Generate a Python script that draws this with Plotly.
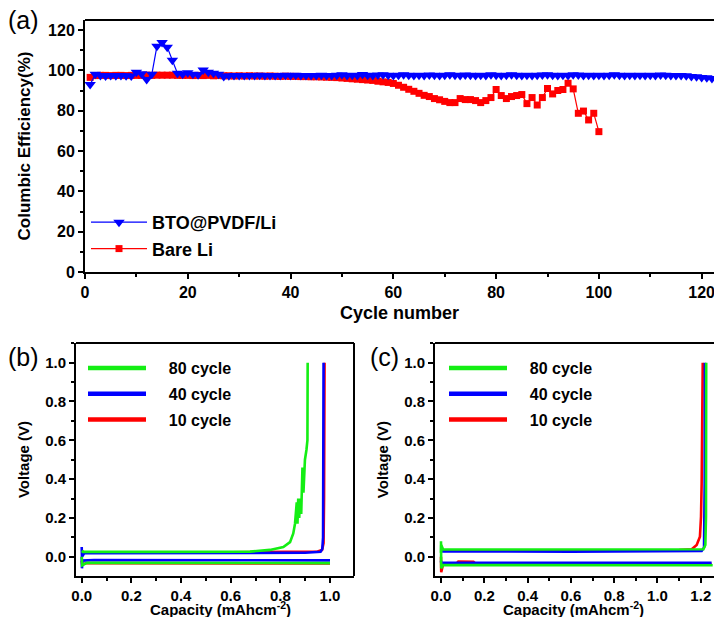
import plotly.graph_objects as go

FONT = "Liberation Sans, Arial, sans-serif"

# ---------------- Panel (a) data ----------------
bto_ce = [
    93.0, 98.0, 97.5, 97.2, 97.4, 97.3, 97.4, 97.3, 97.2, 99.0,
    98.3, 95.5, 98.0, 112.0, 113.8, 111.5, 105.0, 98.5, 98.0, 98.8,
    98.0, 97.8, 100.2, 99.0, 98.6, 98.0, 97.0,
    97.3, 97.5, 97.4, 97.5, 97.4, 97.5, 97.6, 97.4, 97.5, 97.4, 97.5, 97.6, 97.5,
    97.6, 97.5, 97.4, 97.5, 97.5, 97.6, 97.5, 97.4, 97.6, 97.8,
    97.5, 97.6, 97.5, 97.9, 97.6, 97.5, 97.7, 97.8, 97.6, 97.5,
    97.6, 97.8, 97.6, 97.5, 97.6, 97.5, 97.7, 97.6, 97.5, 97.6,
    97.8, 97.6, 97.5, 97.7, 97.6, 97.5, 97.6, 97.5, 97.8, 97.6,
    97.5, 97.6, 97.8, 97.6, 97.5, 97.6, 97.5, 97.6, 97.7, 97.8,
    97.6, 97.5, 97.6, 97.5, 97.8, 97.7, 97.5, 97.6, 97.5, 97.6,
    97.5, 97.6, 97.8, 97.6, 97.5, 97.6, 97.5, 97.6, 97.5, 97.6,
    97.5, 97.7, 97.6, 97.5, 97.4, 97.5, 97.3, 97.0, 96.8, 96.5,
    96.3, 96.0,
]
bto_cycle = list(range(1, len(bto_ce) + 1))

bare_ce = [
    96.5, 97.4, 97.5, 97.5, 97.4, 97.5, 97.5, 97.4, 97.5, 97.5,
    97.5, 97.6, 97.5, 97.6, 97.6, 97.6, 97.6, 97.5, 97.5, 97.5,
    97.4, 97.5, 97.4, 97.5, 97.3, 97.4, 97.3, 97.3, 97.2, 97.3,
    97.2, 97.3, 97.2, 97.2, 97.1, 97.2, 97.1, 97.0, 97.1, 97.0,
    97.0, 96.9, 96.9, 96.8, 96.8, 96.7, 96.6, 96.5, 96.4, 96.2,
    96.0, 95.8, 95.6, 95.4, 95.2, 95.0, 94.6, 94.3, 94.0, 93.5,
    92.6, 91.6, 90.6, 89.6, 88.6, 87.6, 87.0, 86.0, 85.4, 84.6,
    84.0, 84.0, 86.0, 85.5, 85.5, 85.0, 84.0, 85.0, 86.5, 90.5,
    87.5, 86.0, 87.0, 87.5, 88.0, 83.5, 86.5, 82.8, 86.5, 91.0,
    88.3, 90.0, 90.5, 93.6, 90.8, 78.7, 79.8, 75.4, 78.7, 69.6,
]
bare_cycle = list(range(1, len(bare_ce) + 1))

# ---------------- Panel (b) data (discharge segment, gap, charge segment) ----------------
b10_cap = [0.0, 0.002, 0.02, 0.5, 0.9, 1.0, None,
           0.0, 0.01, 0.5, 0.83, 0.95, 0.968, 0.974, 0.976, 0.977, 0.978]
b10_v = [-0.02, -0.04, -0.033, -0.033, -0.034, -0.035, None,
         0.03, 0.022, 0.022, 0.025, 0.027, 0.035, 0.07, 0.3, 0.6, 1.0]

b40_cap = [0.0, 0.001, 0.003, 0.05, 0.5, 0.9, 1.0, None,
           0.0, 0.001, 0.01, 0.5, 0.9, 0.962, 0.969, 0.972, 0.973, 0.974]
b40_v = [0.0, -0.06, -0.02, -0.017, -0.018, -0.019, -0.019, None,
         0.05, 0.0, 0.018, 0.018, 0.02, 0.025, 0.04, 0.1, 0.5, 1.0]

b80_cap = [0.0, 0.002, 0.02, 0.4, 0.8, 1.0, None,
           0.0, 0.005, 0.3, 0.678, 0.758, 0.812, 0.839, 0.852, 0.859, 0.866,
           0.869, 0.872, 0.876, 0.879, 0.884, 0.889, 0.893, 0.899, 0.905, 0.909, 0.91]
b80_v = [0.0, -0.045, -0.032, -0.032, -0.033, -0.033, None,
         0.03, 0.025, 0.025, 0.026, 0.035, 0.05, 0.075, 0.12, 0.17, 0.28,
         0.17, 0.3, 0.2, 0.3, 0.22, 0.46, 0.33, 0.5, 0.55, 0.6, 1.0]

# ---------------- Panel (c) data ----------------
c10_cap = [0.0, 0.001, 0.01, 0.07, 0.08, 0.15, 0.16, 0.5, 1.0, 1.25, None,
           0.0, 0.01, 0.6, 1.1, 1.158, 1.181, 1.196, 1.201, 1.204, 1.207, 1.209]
c10_v = [0.0, -0.08, -0.037, -0.037, -0.025, -0.026, -0.037, -0.037, -0.037, -0.038, None,
         0.035, 0.033, 0.033, 0.034, 0.038, 0.06, 0.103, 0.206, 0.378, 0.636, 1.0]

c40_cap = [0.0, 0.002, 0.01, 0.5, 1.0, 1.25, None,
           0.0, 0.01, 0.6, 1.1, 1.204, 1.215, 1.218, 1.219]
c40_v = [-0.02, -0.04, -0.031, -0.031, -0.031, -0.032, None,
         0.03, 0.027, 0.026, 0.027, 0.03, 0.048, 0.38, 1.0]

c80_cap = [0.0, 0.001, 0.01, 0.5, 1.0, 1.255, None,
           0.0, 0.001, 0.01, 0.6, 1.1, 1.212, 1.221, 1.224, 1.225]
c80_v = [0.08, -0.06, -0.043, -0.042, -0.043, -0.044, None,
         0.02, 0.06, 0.037, 0.036, 0.036, 0.038, 0.06, 0.206, 1.0]

cycle_labels = ["80 cycle", "40 cycle", "10 cycle"]

BLUE = "#0000FF"
RED = "#FF0000"
GREEN = "#14EE14"

fig = go.Figure()

# panel (a): red drawn first, blue on top
fig.add_trace(go.Scatter(
    x=bare_cycle, y=bare_ce, mode="lines+markers", name="Bare Li",
    line=dict(color=RED, width=1.2),
    marker=dict(symbol="square", size=7, color=RED),
    xaxis="x", yaxis="y", legend="legend", legendgroup="a2", cliponaxis=False))
fig.add_trace(go.Scatter(
    x=bto_cycle, y=bto_ce, mode="lines+markers", name="BTO@PVDF/Li",
    line=dict(color=BLUE, width=1.2),
    marker=dict(symbol="triangle-down", size=10, color=BLUE),
    xaxis="x", yaxis="y", legend="legend", legendgroup="a1", cliponaxis=False))

# panels (b) and (c): real curves
LW = 2.6
for xa, ya, data in [
    ("x2", "y2", [(b10_cap, b10_v, RED), (b40_cap, b40_v, BLUE), (b80_cap, b80_v, GREEN)]),
    ("x3", "y3", [(c10_cap, c10_v, RED), (c40_cap, c40_v, BLUE), (c80_cap, c80_v, GREEN)]),
]:
    for cap, v, col in data:
        fig.add_trace(go.Scatter(x=cap, y=v, mode="lines", line=dict(color=col, width=LW),
                                 connectgaps=False, showlegend=False,
                                 xaxis=xa, yaxis=ya))

# legend samples for (b) and (c)
for leg, xa, ya in [("legend2", "x2", "y2"), ("legend3", "x3", "y3")]:
    for i, (lab, col) in enumerate(zip(cycle_labels, [GREEN, BLUE, RED])):
        fig.add_trace(go.Scatter(x=[None], y=[None], mode="lines",
                                 name="\u00a0\u00a0\u00a0\u00a0" + lab,
                                 line=dict(color=col, width=4.5),
                                 legend=leg, legendgroup=leg + str(i),
                                 xaxis=xa, yaxis=ya))

tickfont_a = dict(family=FONT, size=16, color="black", weight="bold")
tickfont_b = dict(family=FONT, size=15, color="black", weight="bold")


def axis_common(tickfont):
    return dict(showline=True, linecolor="black", linewidth=2, ticks="outside",
                ticklen=5, tickwidth=2, tickcolor="black", showgrid=False,
                zeroline=False, tickfont=tickfont, ticklabeloverflow="allow")


minor_a = dict(ticks="outside", ticklen=3, dtick=10, tickcolor="black", tickwidth=1.5)
minor_b = dict(ticks="outside", ticklen=3, dtick=0.1, tickcolor="black", tickwidth=1.5)

frame = dict(color="black", width=2)
shapes = [
    # frame lines on the top of (a), top/right of (b), top of (c)
    dict(type="line", xref="x domain", yref="y domain", x0=0, x1=1, y0=1, y1=1, line=frame),
    dict(type="line", xref="x2 domain", yref="y2 domain", x0=0, x1=1, y0=1, y1=1, line=frame),
    dict(type="line", xref="x2 domain", yref="y2 domain", x0=1, x1=1, y0=0, y1=1, line=frame),
    dict(type="line", xref="x3 domain", yref="y3 domain", x0=0, x1=1, y0=1, y1=1, line=frame),
]

cap_title = "Capacity (mAhcm<sup>-2</sup>)"

fig.update_layout(
    width=714, height=617,
    margin=dict(l=0, r=0, t=0, b=0, autoexpand=False),
    paper_bgcolor="white", plot_bgcolor="white",
    font=dict(family=FONT, color="black"),
    shapes=shapes,
    xaxis=dict(domain=[85 / 714, 1.0], range=[0, 122.4], dtick=20, anchor="y",
               minor=minor_a,
               title=dict(text="Cycle number", font=dict(size=18, weight="bold"), standoff=6),
               **axis_common(tickfont_a)),
    yaxis=dict(domain=[1 - 272 / 617, 1 - 20 / 617], range=[0, 124.96], dtick=20, anchor="x",
               minor=minor_a,
               title=dict(text="Columbic Efficiency(%)", font=dict(size=17, weight="bold"), standoff=13),
               **axis_common(tickfont_a)),
    xaxis2=dict(domain=[76 / 714, 354 / 714], range=[-0.023, 1.0966], dtick=0.2, tickformat=".1f",
                anchor="y2", minor=minor_b,
                **axis_common(tickfont_b)),
    yaxis2=dict(domain=[1 - 576 / 617, 1 - 343 / 617], range=[-0.0995, 1.1015], dtick=0.2,
                tickformat=".1f", anchor="x2", minor=minor_b,
                title=dict(text="Voltage (V)", font=dict(size=15, weight="bold"), standoff=12),
                **axis_common(tickfont_b)),
    xaxis3=dict(domain=[435 / 714, 1.0], range=[-0.0277, 1.261], dtick=0.2, tickformat=".1f",
                anchor="y3", minor=minor_b,
                **axis_common(tickfont_b)),
    yaxis3=dict(domain=[1 - 576 / 617, 1 - 343 / 617], range=[-0.0995, 1.1015], dtick=0.2,
                tickformat=".1f", anchor="x3", minor=minor_b,
                title=dict(text="Voltage (V)", font=dict(size=15, weight="bold"), standoff=12),
                **axis_common(tickfont_b)),
    legend=dict(x=86 / 714, y=1 - 204 / 617, xanchor="left", yanchor="top",
                bgcolor="rgba(0,0,0,0)", itemwidth=56, tracegroupgap=12,
                traceorder="reversed",
                font=dict(family=FONT, size=18, color="black", weight="bold")),
    legend2=dict(x=83 / 714, y=1 - 351 / 617, xanchor="left", yanchor="top",
                 bgcolor="rgba(0,0,0,0)", itemwidth=58, tracegroupgap=2,
                 font=dict(family=FONT, size=16, color="black", weight="bold")),
    legend3=dict(x=444 / 714, y=1 - 351 / 617, xanchor="left", yanchor="top",
                 bgcolor="rgba(0,0,0,0)", itemwidth=58, tracegroupgap=2,
                 font=dict(family=FONT, size=16, color="black", weight="bold")),
    annotations=[
        dict(text="(a)", x=6 / 714, y=1 - 20 / 617, xref="paper", yref="paper",
             xanchor="left", yanchor="middle", showarrow=False,
             font=dict(family=FONT, size=25, color="black")),
        dict(text="(b)", x=6 / 714, y=1 - 357 / 617, xref="paper", yref="paper",
             xanchor="left", yanchor="middle", showarrow=False,
             font=dict(family=FONT, size=25, color="black")),
        dict(text="(c)", x=368 / 714, y=1 - 357 / 617, xref="paper", yref="paper",
             xanchor="left", yanchor="middle", showarrow=False,
             font=dict(family=FONT, size=25, color="black")),
        dict(text=cap_title, x=220 / 714, y=1 - 608 / 617, xref="paper", yref="paper",
             xanchor="center", yanchor="middle", showarrow=False,
             font=dict(family=FONT, size=15, color="black", weight="bold")),
        dict(text=cap_title, x=573 / 714, y=1 - 608 / 617, xref="paper", yref="paper",
             xanchor="center", yanchor="middle", showarrow=False,
             font=dict(family=FONT, size=15, color="black", weight="bold")),
    ],
    showlegend=True,
)

fig.write_html("out.html", config={"displayModeBar": False},
               post_script="document.body.style.margin='0';document.body.style.overflow='hidden';")
